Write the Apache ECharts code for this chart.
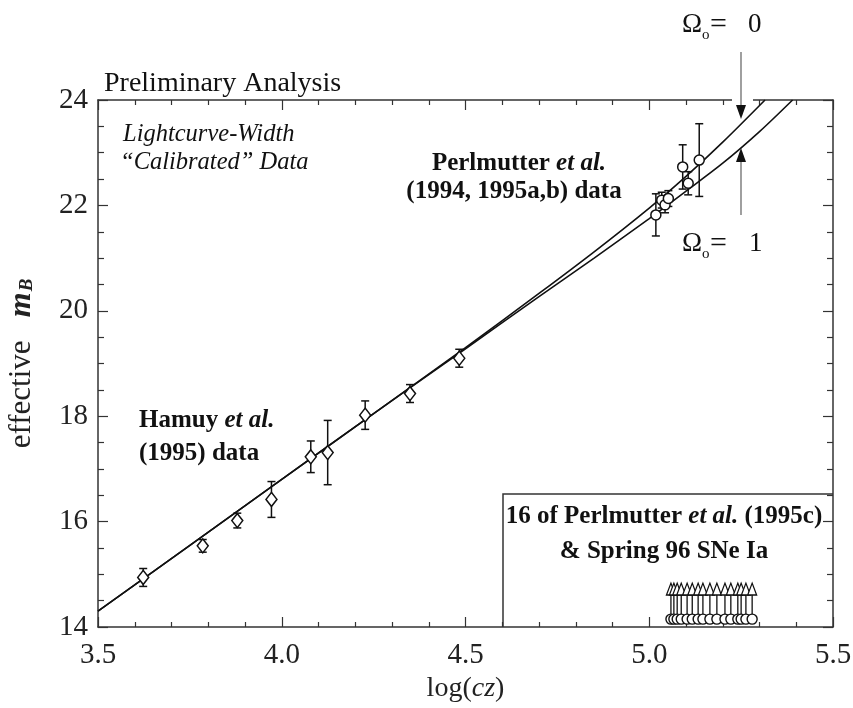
<!DOCTYPE html>
<html>
<head>
<meta charset="utf-8">
<title>effective m_B vs log(cz)</title>
<script src="https://cdn.jsdelivr.net/npm/echarts@6/dist/echarts.min.js"></script>
<style>
  html, body { margin: 0; padding: 0; background: #fff; }
  #chart { width: 853px; height: 708px; }
</style>
</head>
<body>
<div id="chart"></div>
<script>
// Hamuy et al. (1995) data - open diamonds
const hamuyLogCz = [3.623, 3.785, 3.879, 3.972, 4.079, 4.125, 4.227, 4.349, 4.483];
const hamuyMag   = [14.94, 15.54, 16.02, 16.42, 17.23, 17.31, 18.02, 18.43, 19.10];
const hamuyErr   = [0.17, 0.12, 0.14, 0.34, 0.30, 0.61, 0.27, 0.17, 0.17];

// Perlmutter et al. (1994, 1995a,b) data - open circles
const perlLogCz = [5.018, 5.034, 5.043, 5.052, 5.091, 5.106, 5.136];
const perlMag   = [21.82, 22.10, 22.01, 22.13, 22.73, 22.42, 22.86];
const perlErr   = [0.40, 0.15, 0.15, 0.15, 0.42, 0.22, 0.69];

// model curves
const omega0LogCz = [3.5, 3.75, 4.0, 4.25, 4.5, 4.7, 4.85, 5.0, 5.1, 5.2, 5.315];
const omega0Mag   = [14.3, 15.55, 16.8, 18.05, 19.3, 20.33, 21.12, 21.95, 22.55, 23.2, 24.0];
const omega1LogCz = [3.5, 3.75, 4.0, 4.25, 4.5, 4.7, 4.85, 5.0, 5.1, 5.2, 5.3, 5.39];
const omega1Mag   = [14.3, 15.55, 16.8, 18.05, 19.28, 20.27, 21.0, 21.75, 22.27, 22.8, 23.4, 24.0];

// inset: 16 of Perlmutter et al. (1995c) & Spring 96 SNe Ia (lower limits)
const insetLogCz = [5.059, 5.067, 5.076, 5.087, 5.103, 5.117, 5.133, 5.146, 5.165, 5.184, 5.206, 5.222, 5.241, 5.250, 5.263, 5.280];
const insetFrom  = [14.15, 14.15, 14.15, 14.15, 14.15, 14.15, 14.15, 14.15, 14.15, 14.15, 14.15, 14.15, 14.15, 14.15, 14.15, 14.15];
const insetTo    = [14.72, 14.72, 14.72, 14.72, 14.72, 14.72, 14.72, 14.72, 14.72, 14.72, 14.72, 14.72, 14.72, 14.72, 14.72, 14.72];

const xTicks = [3.5, 4.0, 4.5, 5.0, 5.5];
const yTicks = [14, 16, 18, 20, 22, 24];

const SERIF = '"Liberation Serif", "DejaVu Serif", serif';
const INK = '#111';
const AXIS = '#333';

function pairs(xs, ys) {
  return xs.map((x, i) => [x, ys[i]]);
}

function errorBars(xs, ys, es) {
  return {
    type: 'custom',
    data: xs.map((x, i) => [x, ys[i] - es[i], ys[i] + es[i]]),
    encode: { x: 0, y: [1, 2] },
    z: 3,
    renderItem: function (params, api) {
      const lo = api.coord([api.value(0), api.value(1)]);
      const hi = api.coord([api.value(0), api.value(2)]);
      const w = 4;
      const style = { stroke: INK, lineWidth: 1.5 };
      return {
        type: 'group',
        children: [
          { type: 'line', shape: { x1: lo[0], y1: lo[1], x2: hi[0], y2: hi[1] }, style: style },
          { type: 'line', shape: { x1: lo[0] - w, y1: lo[1], x2: lo[0] + w, y2: lo[1] }, style: style },
          { type: 'line', shape: { x1: hi[0] - w, y1: hi[1], x2: hi[0] + w, y2: hi[1] }, style: style }
        ]
      };
    }
  };
}

const tickStyle = { color: AXIS, width: 1.2 };

function axisBase(extra) {
  return Object.assign({
    type: 'value',
    axisLine: { show: true, onZero: false, lineStyle: { color: AXIS, width: 1.5 } },
    axisTick: { show: true, inside: true, length: 10, lineStyle: tickStyle },
    minorTick: { show: true, length: 5, lineStyle: tickStyle },
    splitLine: { show: false },
    minorSplitLine: { show: false }
  }, extra);
}

const chart = echarts.init(document.getElementById('chart'), null, { renderer: 'canvas' });

const bold = { fontFamily: SERIF, fontSize: 25, fontWeight: 'bold', fill: INK };
const boldItalic = { fontFamily: SERIF, fontSize: 25, fontWeight: 'bold', fontStyle: 'italic', fill: INK };

function label(x, y, text, size, opts) {
  return {
    type: 'text', x: x, y: y, z: 100,
    style: Object.assign({
      text: text,
      fontFamily: SERIF,
      fontSize: size,
      fill: INK,
      align: 'left',
      verticalAlign: 'middle'
    }, opts || {})
  };
}

chart.setOption({
  animation: false,
  backgroundColor: '#fff',
  grid: { left: 98, right: 20, top: 100, bottom: 81, containLabel: false, outerBoundsMode: 'none' },
  xAxis: [
    axisBase({
      min: xTicks[0], max: xTicks[xTicks.length - 1], interval: 0.5, position: 'bottom',
      minorTick: { show: true, splitNumber: 5, length: 5, lineStyle: tickStyle },
      axisLabel: {
        fontFamily: SERIF, fontSize: 29, color: '#222', margin: 14,
        formatter: v => v.toFixed(1)
      },
      name: 'log({i|cz})',
      nameLocation: 'middle',
      nameGap: 48,
      nameTextStyle: {
        fontFamily: SERIF, fontSize: 28, color: '#222',
        rich: { i: { fontFamily: SERIF, fontSize: 28, fontStyle: 'italic', color: '#222' } }
      }
    }),
    axisBase({
      min: xTicks[0], max: xTicks[xTicks.length - 1], interval: 0.5, position: 'top',
      minorTick: { show: true, splitNumber: 5, length: 5, lineStyle: tickStyle },
      axisLabel: { show: false }
    })
  ],
  yAxis: [
    axisBase({
      min: yTicks[0], max: yTicks[yTicks.length - 1], interval: 2, position: 'left',
      minorTick: { show: true, splitNumber: 4, length: 6, lineStyle: tickStyle },
      axisLabel: { fontFamily: SERIF, fontSize: 29, color: '#222', margin: 10 },
      name: 'effective   {m|m}{s|B}',
      nameLocation: 'middle',
      nameRotate: 90,
      nameGap: 60,
      nameTextStyle: {
        fontFamily: SERIF, fontSize: 31, color: '#222',
        rich: {
          m: { fontFamily: SERIF, fontSize: 32, fontStyle: 'italic', fontWeight: 'bold', color: '#222' },
          s: { fontFamily: SERIF, fontSize: 19, fontStyle: 'italic', fontWeight: 'bold', color: '#222', padding: [11, 0, 0, 1] }
        }
      }
    }),
    axisBase({
      min: yTicks[0], max: yTicks[yTicks.length - 1], interval: 2, position: 'right',
      minorTick: { show: true, splitNumber: 4, length: 6, lineStyle: tickStyle },
      axisLabel: { show: false }
    })
  ],
  series: [
    {
      name: 'Omega0 = 0', type: 'line', data: pairs(omega0LogCz, omega0Mag),
      smooth: 0.3, showSymbol: false, z: 2,
      lineStyle: { color: INK, width: 1.6 }
    },
    {
      name: 'Omega0 = 1', type: 'line', data: pairs(omega1LogCz, omega1Mag),
      smooth: 0.3, showSymbol: false, z: 2,
      lineStyle: { color: INK, width: 1.6 }
    },
    errorBars(hamuyLogCz, hamuyMag, hamuyErr),
    errorBars(perlLogCz, perlMag, perlErr),
    {
      name: 'Hamuy', type: 'scatter', data: pairs(hamuyLogCz, hamuyMag), z: 4,
      symbol: 'diamond', symbolSize: [11, 14],
      itemStyle: { color: '#fff', borderColor: INK, borderWidth: 1.5, opacity: 1 }
    },
    {
      name: 'Perlmutter', type: 'scatter', data: pairs(perlLogCz, perlMag), z: 4,
      symbol: 'circle', symbolSize: 10,
      itemStyle: { color: '#fff', borderColor: INK, borderWidth: 1.5, opacity: 1 }
    },
    {
      name: 'inset shafts', type: 'custom', z: 3,
      data: insetLogCz.map((x, i) => [x, insetFrom[i], insetTo[i]]),
      encode: { x: 0, y: [1, 2] },
      renderItem: function (params, api) {
        const a = api.coord([api.value(0), api.value(1)]);
        const b = api.coord([api.value(0), api.value(2)]);
        return { type: 'line', shape: { x1: a[0], y1: a[1], x2: b[0], y2: b[1] }, style: { stroke: INK, lineWidth: 1.3 } };
      }
    },
    {
      name: 'inset limits', type: 'scatter', data: pairs(insetLogCz, insetTo), z: 4,
      symbol: 'triangle', symbolSize: [9, 12],
      itemStyle: { color: '#fff', borderColor: INK, borderWidth: 1.3, opacity: 1 }
    },
    {
      name: 'inset SNe', type: 'scatter', data: pairs(insetLogCz, insetFrom), z: 4,
      symbol: 'circle', symbolSize: 10,
      itemStyle: { color: '#fff', borderColor: INK, borderWidth: 1.4, opacity: 1 }
    }
  ],
  graphic: [
    // gap in the top frame where the arrow comes in
    { type: 'rect', z: 90, shape: { x: 732, y: 95, width: 21, height: 9 }, style: { fill: '#fff' } },
    // inset frame
    { type: 'polyline', z: 90, shape: { points: [[503, 627], [503, 494], [833, 494]] }, style: { stroke: AXIS, lineWidth: 1.5, fill: null } },

    label(104, 84, 'Preliminary Analysis', 28),
    label(123, 135, 'Lightcurve-Width', 24.5, { fontStyle: 'italic' }),
    label(120, 163, '\u201CCalibrated\u201D Data', 24.5, { fontStyle: 'italic' }),

    label(139, 421, '{b|Hamuy }{bi|et al.}', 25, { rich: { b: bold, bi: boldItalic } }),
    label(139, 454, '(1995) data', 25, { fontWeight: 'bold' }),

    label(519, 164, '{b|Perlmutter }{bi|et al.}', 25, { align: 'center', rich: { b: bold, bi: boldItalic } }),
    label(514, 192, '(1994, 1995a,b) data', 25, { align: 'center', fontWeight: 'bold' }),

    label(664, 517, '{b|16 of Perlmutter }{bi|et al.}{b| (1995c)}', 25, { align: 'center', rich: { b: bold, bi: boldItalic } }),
    label(664, 552, '& Spring 96 SNe Ia', 25, { align: 'center', fontWeight: 'bold' }),

    // Omega labels
    label(682, 25, '\u03A9', 27),
    label(702, 35, 'o', 15),
    label(710, 25, '=', 30),
    label(748, 25, '0', 27),
    label(682, 244, '\u03A9', 27),
    label(702, 254, 'o', 15),
    label(710, 244, '=', 30),
    label(749, 244, '1', 27),

    // arrows
    { type: 'line', z: 95, shape: { x1: 741, y1: 52, x2: 741, y2: 108 }, style: { stroke: '#888', lineWidth: 1.6 } },
    { type: 'polygon', z: 96, shape: { points: [[736, 105], [746, 105], [741, 119]] }, style: { fill: INK } },
    { type: 'line', z: 95, shape: { x1: 741, y1: 215, x2: 741, y2: 160 }, style: { stroke: '#888', lineWidth: 1.6 } },
    { type: 'polygon', z: 96, shape: { points: [[736, 162], [746, 162], [741, 148]] }, style: { fill: INK } }
  ]
});
</script>
</body>
</html>
